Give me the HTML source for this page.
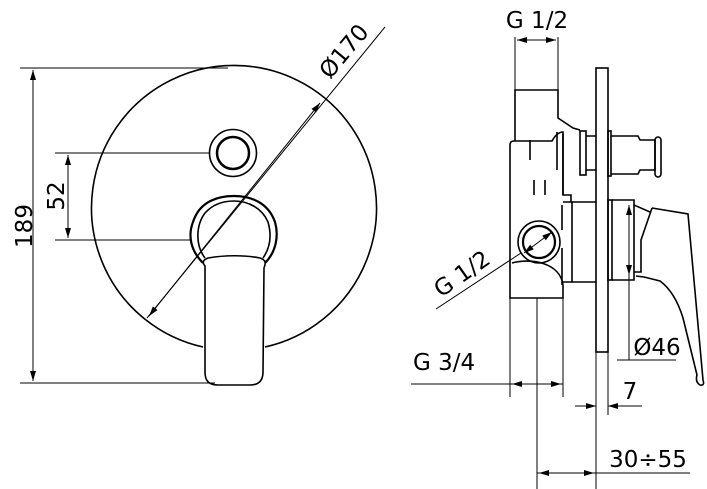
<!DOCTYPE html>
<html><head><style>html,body{margin:0;padding:0;background:#fff}svg{display:block}</style></head><body>
<svg width="707" height="489" viewBox="0 0 707 489" xmlns="http://www.w3.org/2000/svg" font-family="'DejaVu Sans','Liberation Sans',sans-serif">
<defs>
<marker id="a" viewBox="0 0 10 6" refX="10" refY="3" markerWidth="10" markerHeight="6" orient="auto-start-reverse" markerUnits="userSpaceOnUse"><path d="M0,0L10,3L0,6z" fill="#000"/></marker>
</defs>
<g fill="none" stroke="#000" stroke-width="1">
<line x1="20" y1="68" x2="228" y2="68"/>
<line x1="20" y1="383" x2="215" y2="383"/>
<line x1="33" y1="70" x2="33" y2="381" marker-start="url(#a)" marker-end="url(#a)"/>
<line x1="55" y1="153" x2="210" y2="153"/>
<line x1="55" y1="240" x2="192" y2="240"/>
<line x1="68" y1="155" x2="68" y2="238" marker-start="url(#a)" marker-end="url(#a)"/>
<line x1="147" y1="318" x2="385" y2="27"/>
<line x1="149" y1="316" x2="320" y2="103" marker-start="url(#a)" marker-end="url(#a)"/>
</g>
<g fill="none" stroke="#000" stroke-width="1.6">
<path d="M203,347 A142.5,142.5 0 1 1 265,347"/>
<circle cx="233" cy="153" r="23.5"/>
<circle cx="233" cy="153" r="16" stroke-width="2.5"/>
<path d="M203,263 C190,250 188,235 193,222 C200,200 220,196 234,196 C250,196 268,202 275,222 C279,236 276,252 265,263" stroke-width="2.2"/>
<path d="M205,258 C195,245 196,225 205,213 C214,203 226,201 234,201 C248,201 262,208 268,222 C272,236 270,248 263,258"/>
<path d="M205,266 C202,262 203,260 208,258 C225,255 245,255 260,258 C266,260 266,263 264,268 L263,372 C263,382 257,385 250,385 L218,385 C210,385 205,382 205,372 Z"/>
</g>
<g fill="none" stroke="#000" stroke-width="1">
<line x1="515" y1="37" x2="515" y2="90"/>
<line x1="558" y1="37" x2="558" y2="90"/>
<line x1="517" y1="40" x2="556" y2="40" marker-start="url(#a)" marker-end="url(#a)"/>
<line x1="436" y1="309" x2="521" y2="253"/>
<line x1="524" y1="253" x2="552" y2="232" marker-start="url(#a)" marker-end="url(#a)"/>
<line x1="510" y1="298" x2="510" y2="397"/>
<line x1="563" y1="298" x2="563" y2="397"/>
<line x1="537" y1="298" x2="537" y2="489"/>
<line x1="411" y1="384" x2="563" y2="384"/>
<line x1="512" y1="384" x2="561" y2="384" marker-start="url(#a)" marker-end="url(#a)"/>
<line x1="596" y1="352" x2="596" y2="489"/>
<line x1="608" y1="352" x2="608" y2="415"/>
<line x1="575" y1="406" x2="596" y2="406" marker-end="url(#a)"/>
<line x1="642" y1="406" x2="608" y2="406" marker-end="url(#a)"/>
<line x1="537" y1="473" x2="690" y2="473"/>
<line x1="539" y1="473" x2="594" y2="473" marker-start="url(#a)" marker-end="url(#a)"/>
<line x1="629" y1="205" x2="629" y2="360"/>
<line x1="629" y1="205" x2="629" y2="275" marker-start="url(#a)" marker-end="url(#a)"/>
<line x1="617" y1="360" x2="676" y2="360"/>
</g>
<g fill="none" stroke="#000" stroke-width="1.6">
<rect x="596" y="68" width="12" height="284"/>
<path d="M515,141 L515,90 L558,90 L558,118 L573,128 L580,130"/>
<path d="M510,145 Q510,141 514,141 L552,141 Q557,132 563,132 L563,195 L571,195 L571,202"/>
<path d="M510,145 L510,298 L563,298 L563,285"/>
<path d="M512,263 C530,258 560,262 563,285"/>
<path d="M563,202 L572,202 L572,282 L563,282"/>
<path d="M572,202 L596,202 M572,282 L596,282"/>
<path d="M563,134 L563,195 M557,132 L557,170"/>
<rect x="580" y="131" width="6" height="44"/>
<path d="M586,136 L596,136 M586,170 L596,170"/>
<rect x="608" y="131" width="3" height="45"/>
<path d="M611,136 L638,136 L640,140 L655,140 L655,170 L640,170 L638,174 L611,174"/>
<rect x="655" y="137" width="6" height="40" rx="3"/>
<path d="M530,140 L530,160 M534,180 L534,195 M545,180 L545,195 M562,205 L562,230 M562,248 L562,285"/>
<circle cx="539" cy="242" r="21"/>
<circle cx="539" cy="242" r="16" stroke-width="2.2"/>
<rect x="608" y="200" width="4" height="80"/>
<path d="M612,200 L634,200 L634,280 L612,280"/>
<path d="M634,205 L650,212 M652,208 L688,214 L703,380 Q705,386 700,385 Q695,382 697,375 L683,318 Q675,292 660,281 L644,277 L636,276"/>
<path d="M652,208 L641,240 L641,272 L634,272"/>
</g>
<g font-size="23" fill="#000">
<text x="537" y="28" text-anchor="middle">G 1/2</text>
<text x="413" y="370">G 3/4</text>
<text x="657" y="355" text-anchor="middle">Ø46</text>
<text x="630" y="399" text-anchor="middle">7</text>
<text x="648" y="467" text-anchor="middle">30÷55</text>
<text transform="translate(441,298) rotate(-35)">G 1/2</text>
<text transform="translate(32,226) rotate(-90)" text-anchor="middle">189</text>
<text transform="translate(64,196) rotate(-90)" text-anchor="middle">52</text>
<text transform="translate(330,80) rotate(-50)">Ø170</text>
</g>
</svg>
</body></html>
